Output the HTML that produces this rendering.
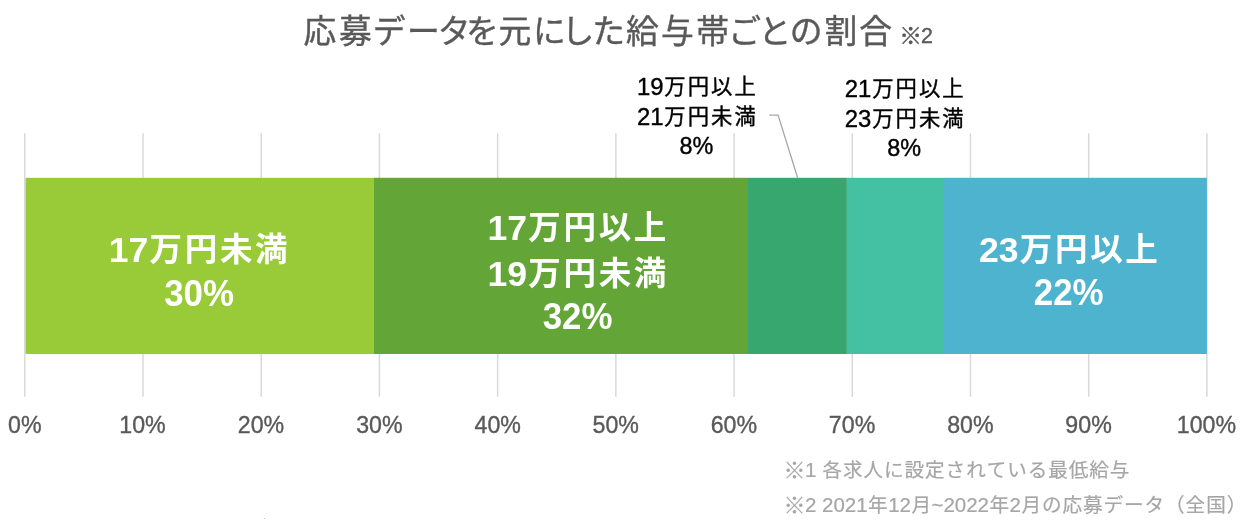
<!DOCTYPE html>
<html lang="ja">
<head>
<meta charset="utf-8">
<title>応募データを元にした給与帯ごとの割合</title>
<style>
html,body{margin:0;padding:0;background:#fff;}
body{width:1246px;height:532px;overflow:hidden;}
svg{display:block;}
text{font-family:"Liberation Sans","Noto Sans CJK JP",sans-serif;}
.t{fill:#595959;stroke:#595959;stroke-width:0.4;}
.a{fill:#595959;stroke:#595959;stroke-width:0.35;}
.b{fill:#fff;font-weight:bold;}
.c{fill:#000;stroke:#000;stroke-width:0.4;}
.n{fill:#a6a6a6;stroke:#a6a6a6;stroke-width:0.2;}
.grid line{stroke:#d9d9d9;stroke-width:1.5;}
</style>
</head>
<body>
<svg width="1246" height="532" viewBox="0 0 1246 532">
<rect width="1246" height="532" fill="#fff"/>
<g class="grid">
<line x1="24.8" y1="133.2" x2="24.8" y2="396.8"/>
<line x1="143.01" y1="133.2" x2="143.01" y2="396.8"/>
<line x1="261.22" y1="133.2" x2="261.22" y2="396.8"/>
<line x1="379.43" y1="133.2" x2="379.43" y2="396.8"/>
<line x1="497.64" y1="133.2" x2="497.64" y2="396.8"/>
<line x1="615.85" y1="133.2" x2="615.85" y2="396.8"/>
<line x1="734.06" y1="133.2" x2="734.06" y2="396.8"/>
<line x1="852.27" y1="133.2" x2="852.27" y2="396.8"/>
<line x1="970.48" y1="133.2" x2="970.48" y2="396.8"/>
<line x1="1088.69" y1="133.2" x2="1088.69" y2="396.8"/>
<line x1="1206.9" y1="133.2" x2="1206.9" y2="396.8"/>
</g>
<g>
<rect x="25.6" y="177.8" width="348.4" height="176.2" fill="#99cb38"/>
<rect x="374" y="177.8" width="374" height="176.2" fill="#63a537"/>
<rect x="748" y="177.8" width="98.9" height="176.2" fill="#37a76f"/>
<rect x="846.9" y="177.8" width="96.1" height="176.2" fill="#44c1a3"/>
<rect x="943" y="177.8" width="263.9" height="176.2" fill="#4eb3cf"/>
</g>
<polyline points="769.3,115.05 778.1,115.05 797.6,177.8" fill="none" stroke="#a6a6a6" stroke-width="1.3"/>
<text class="t"><tspan font-size="32.8" x="303.47 338.93 372.75 407.02 437.87 466.08 498.6 533.12 561.59 592.15 626.09 660.95 696.27 728.28 758.41 789.77 824.59 859.37" y="42.5">応募データを元にした給与帯ごとの割合 </tspan><tspan font-size="22.8" x="899.15" y="44.01">※</tspan><tspan font-size="21.4" x="920.9" y="42.8">2</tspan></text>
<text class="b"><tspan font-size="35.6" x="108.75" y="262">17</tspan><tspan font-size="32.5" x="149.5 184.7 219.9 255.1" y="261.4">万円未満</tspan></text>
<text class="b" font-size="34.9" transform="translate(164.18 305.5) scale(1 1.04)">30%</text>
<text class="b"><tspan font-size="35.6" x="487.5" y="239.9">17</tspan><tspan font-size="32.5" x="528.25 563.45 598.65 633.85" y="239.3">万円以上</tspan></text>
<text class="b"><tspan font-size="35.6" x="487.5" y="285.8">19</tspan><tspan font-size="32.5" x="528.25 563.45 598.65 633.85" y="285.2">万円未満</tspan></text>
<text class="b" font-size="34.9" transform="translate(542.68 329) scale(1 1.04)">32%</text>
<text class="b"><tspan font-size="35.6" x="979" y="261.6">23</tspan><tspan font-size="32.5" x="1019.75 1054.95 1090.15 1125.35" y="261">万円以上</tspan></text>
<text class="b" font-size="34.9" transform="translate(1033.78 305.2) scale(1 1.04)">22%</text>
<text class="c"><tspan font-size="23.87" x="636.98" y="94.8">19</tspan><tspan font-size="21.3" x="664.35 687.7 711.05 734.4" y="94">万円以上</tspan></text>
<text class="c"><tspan font-size="23.87" x="636.98" y="124.8">21</tspan><tspan font-size="21.3" x="664.35 687.7 711.05 734.4" y="124">万円未満</tspan></text>
<text class="c" font-size="23.4" transform="translate(679.5 154.1) scale(1 1.04)">8%</text>
<text class="c"><tspan font-size="23.87" x="844.83" y="96.8">21</tspan><tspan font-size="21.3" x="872.2 895.55 918.9 942.25" y="96">万円以上</tspan></text>
<text class="c"><tspan font-size="23.87" x="844.83" y="126.8">23</tspan><tspan font-size="21.3" x="872.2 895.55 918.9 942.25" y="126">万円未満</tspan></text>
<text class="c" font-size="23.4" transform="translate(887.35 156.1) scale(1 1.04)">8%</text>
<text class="a" font-size="23.2" transform="translate(7.99 433.4) scale(1 1.04)">0%</text>
<text class="a" font-size="23.2" transform="translate(119.32 433.4) scale(1 1.04)">10%</text>
<text class="a" font-size="23.2" transform="translate(237.83 433.4) scale(1 1.04)">20%</text>
<text class="a" font-size="23.2" transform="translate(356.18 433.4) scale(1 1.04)">30%</text>
<text class="a" font-size="23.2" transform="translate(474.57 433.4) scale(1 1.04)">40%</text>
<text class="a" font-size="23.2" transform="translate(592.58 433.4) scale(1 1.04)">50%</text>
<text class="a" font-size="23.2" transform="translate(710.67 433.4) scale(1 1.04)">60%</text>
<text class="a" font-size="23.2" transform="translate(828.87 433.4) scale(1 1.04)">70%</text>
<text class="a" font-size="23.2" transform="translate(947.17 433.4) scale(1 1.04)">80%</text>
<text class="a" font-size="23.2" transform="translate(1065.34 433.4) scale(1 1.04)">90%</text>
<text class="a" font-size="23.2" transform="translate(1176.76 433.4) scale(1 1.04)">100%</text>
<text class="n"><tspan font-size="22" x="783.6" y="477.86">※</tspan><tspan font-size="20.5" x="804.9" y="476.8">1 </tspan><tspan font-size="19.6" x="822.46 842.98 863.51 884.03 904.56 925.08 945.61 966.13 986.66 1007.18 1027.71 1048.23 1068.76 1089.28 1109.81" y="476.8">各求人に設定されている最低給与</tspan></text>
<text class="n"><tspan font-size="22" x="783.6" y="512.76">※</tspan><tspan font-size="20.5" x="804.9" y="511.7">2 2021</tspan><tspan font-size="19.6" x="868.06" y="511.7">年</tspan><tspan font-size="20.5" x="888.13" y="511.7">12</tspan><tspan font-size="19.6" x="911.39" y="511.7">月</tspan><tspan font-size="20.5" x="931.45" y="511.7">~2022</tspan><tspan font-size="19.6" x="989.49" y="511.7">年</tspan><tspan font-size="20.5" x="1009.55" y="511.7">2</tspan><tspan font-size="19.6" x="1021.42 1041.94 1062.47 1082.99 1103.52 1124.04 1144.57 1165.09 1185.62 1206.14 1226.67" y="511.7">月の応募データ（全国）</tspan></text>
<rect x="264" y="518" width="1" height="1" fill="#9fd0e6"/>
</svg>
</body>
</html>
